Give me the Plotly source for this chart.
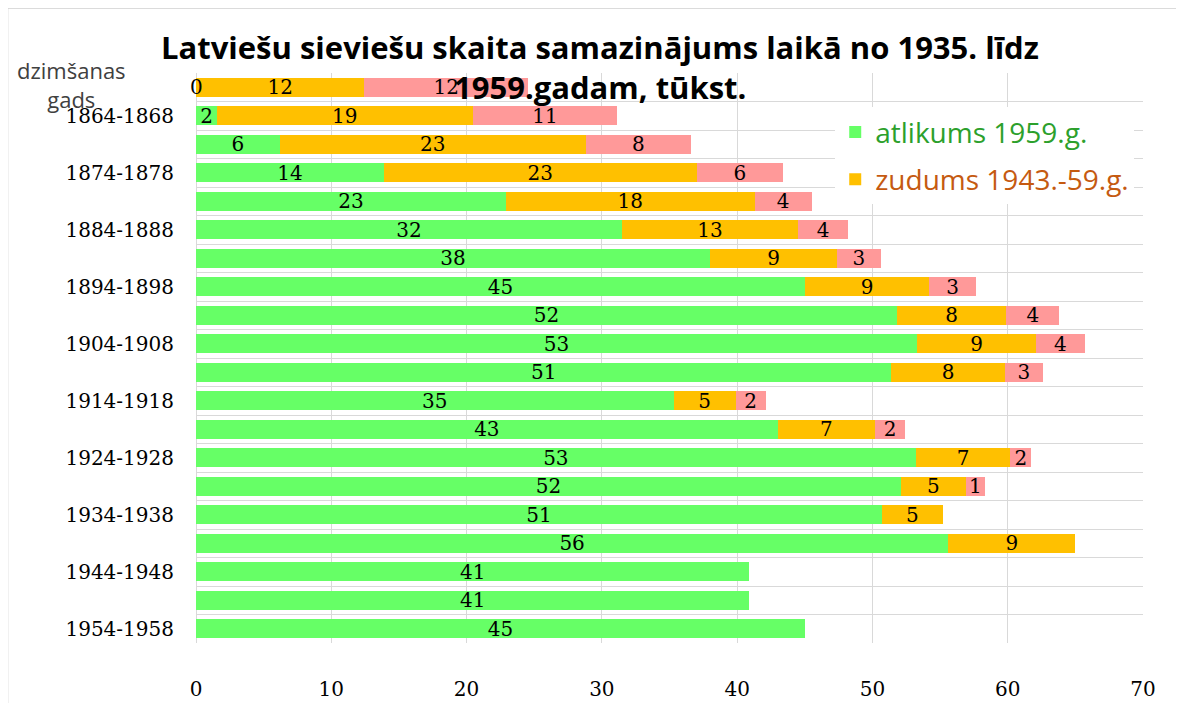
import plotly.graph_objects as go

# dzimšanas gadi (no augšas uz leju)
gadi = ['1859-1863', '1864-1868', '1869-1873', '1874-1878', '1879-1883',
        '1884-1888', '1889-1893', '1894-1898', '1899-1903', '1904-1908',
        '1909-1913', '1914-1918', '1919-1923', '1924-1928', '1929-1933',
        '1934-1938', '1939-1943', '1944-1948', '1949-1953', '1954-1958']

# tūkst.
atlikums = [0, 1.55, 6.2, 13.9, 22.9, 31.5, 38.0, 45.0, 51.8, 53.3,
            51.4, 35.3, 43.0, 53.2, 52.1, 50.7, 55.6, 40.9, 40.9, 45.0]
zudums_4359 = [12.45, 18.9, 22.6, 23.1, 18.4, 13.0, 9.4, 9.2, 8.1, 8.8,
               8.4, 4.6, 7.2, 7.0, 4.8, 4.5, 9.4, None, None, None]
zudums_3543 = [12.1, 10.7, 7.8, 6.4, 4.2, 3.7, 3.2, 3.45, 3.9, 3.6,
               2.8, 2.2, 2.2, 1.53, 1.4, None, None, None, None, None]

pozicijas = list(range(len(gadi)))
label_font = dict(family='DejaVu Serif', size=20, color='black')

fig = go.Figure()

fig.add_trace(go.Bar(
    y=pozicijas, x=atlikums, orientation='h',
    name='<span style="color:#2ca02c">atlikums 1959.g.</span>',
    marker_color='#66FF66', legendgroup='a'))
fig.add_trace(go.Bar(
    y=pozicijas, x=zudums_4359, orientation='h',
    name='<span style="color:#c55a11">zudums 1943.-59.g.</span>',
    marker_color='#FFC000', legendgroup='b'))
fig.add_trace(go.Bar(
    y=pozicijas, x=zudums_3543, orientation='h',
    name='zudums 1935.-43.g.', showlegend=False,
    marker_color='#FF9999', legendgroup='c'))

fig.update_traces(texttemplate='%{x:.0f}', textposition='inside',
                  insidetextanchor='middle', textangle=0,
                  constraintext='none', textfont=label_font,
                  marker_line_width=0)

# nulles vērtībai etiķete (joslai nav platuma)
for i, v in enumerate(atlikums):
    if v == 0:
        fig.add_annotation(x=v, y=i, text='0', showarrow=False,
                           xanchor='center', font=label_font)

# virsraksts divās rindās
title_font = dict(family='Open Sans', size=31, color='black', weight='bold')
fig.add_annotation(xref='paper', yref='paper', x=0.4266, y=1.0456,
                   text='Latviešu sieviešu skaita samazinājums laikā no 1935. līdz',
                   showarrow=False, xanchor='center', yanchor='middle', font=title_font)
fig.add_annotation(xref='paper', yref='paper', x=0.4266, y=0.975,
                   text='1959.gadam, tūkst.',
                   showarrow=False, xanchor='center', yanchor='middle', font=title_font)

fig.add_annotation(xref='paper', yref='paper', x=-0.131, y=0.98,
                   text='dzimšanas<br>gads', showarrow=False,
                   xanchor='center', yanchor='middle',
                   font=dict(family='Open Sans', size=22, color='#404040'))

# rāmis ap diagrammu
fig.add_shape(type='rect', xref='paper', yref='paper',
              x0=-0.199, x1=1.1, y0=-0.2, y1=1.114,
              line=dict(color='#d0d0d0', width=1.5), layer='below')

# lapai ir 8px atkāpe, tāpēc malas nobīdītas
fig.update_layout(
    width=1184, height=703,
    margin=dict(l=188, r=49, t=65, b=68, autoexpand=False),
    plot_bgcolor='white', paper_bgcolor='white',
    barmode='stack', bargap=0.35,
    legend=dict(x=0.675, y=0.94, xanchor='left', yanchor='top',
                bgcolor='white', font=dict(family='Open Sans', size=28),
                traceorder='grouped', tracegroupgap=8),
    showlegend=True,
)

fig.update_xaxes(range=[0, 70], dtick=10, showgrid=True, gridcolor='#d9d9d9',
                 zeroline=True, zerolinecolor='#d9d9d9', zerolinewidth=1,
                 showline=False, ticks='', ticklabelstandoff=32, automargin=False,
                 tickfont=dict(family='DejaVu Serif', size=20, color='black'))

fig.update_yaxes(range=[len(gadi) - 0.5, -0.5],
                 tickvals=pozicijas[1::2], ticktext=gadi[1::2],
                 showgrid=False, zeroline=False, showline=False, ticks='',
                 ticklabelstandoff=21, automargin=False,
                 tickfont=dict(family='DejaVu Serif', size=20, color='black'),
                 minor=dict(tickvals=[p + 0.5 for p in pozicijas[:-1]],
                            showgrid=True, gridcolor='#d9d9d9', gridwidth=1))

fig.write_html('out.html')
